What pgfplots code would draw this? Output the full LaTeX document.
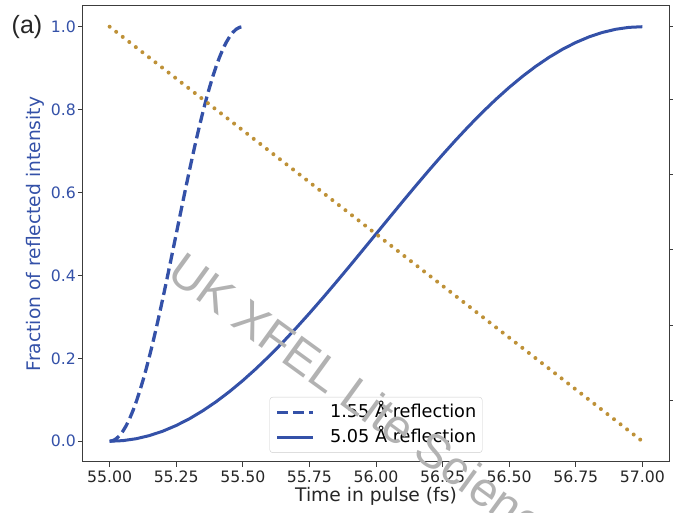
\documentclass[border=0pt]{standalone}
\usepackage{pgfplots}
\pgfplotsset{compat=1.18}
\usepackage{fontspec}
\setmainfont{DejaVu Sans}
\newfontfamily\arialfont{Liberation Sans}
\definecolor{lineblue}{RGB}{52,81,168}
\definecolor{linegold}{RGB}{190,145,55}
\definecolor{spine}{RGB}{60,60,60}
\definecolor{ticktext}{RGB}{38,38,38}
\definecolor{markgray}{RGB}{178,178,178}
\definecolor{legframe}{RGB}{204,204,204}

\begin{document}
\begin{tikzpicture}
\begin{axis}[
    scale only axis,
    width=586pt, height=456pt,
    xmin=54.9, xmax=57.1,
    ymin=-0.05, ymax=1.05,
    xtick={55,55.25,55.5,55.75,56,56.25,56.5,56.75,57},
    ytick={0,0.2,0.4,0.6,0.8,1},
    scaled ticks=false,
    xtick pos=bottom, ytick pos=left,
    tick align=outside,
    major tick length=5pt,
    tick style={spine, line width=1pt},
    axis line style={spine, line width=1pt},
    /pgf/number format/assume math mode=true,
    xticklabel style={font=\fontsize{15.7}{18}\selectfont, text=ticktext, inner sep=0pt, anchor=north, yshift=-3.5pt,
        /pgf/number format/fixed, /pgf/number format/fixed zerofill, /pgf/number format/precision=2},
    yticklabel style={font=\fontsize{15.7}{18}\selectfont, text=lineblue, inner sep=0pt, anchor=east, xshift=-2pt,
        /pgf/number format/fixed, /pgf/number format/fixed zerofill, /pgf/number format/precision=1},
    xlabel={Time in pulse (fs)},
    xlabel style={at={(rel axis cs:0.5,0)}, anchor=base, yshift=-40pt,
        font=\fontsize{18.7}{22}\selectfont, text=ticktext},
    ylabel={Fraction of reflected intensity},
    ylabel style={at={(rel axis cs:0,0.5)}, anchor=center, yshift=48pt,
        font=\fontsize{18.7}{22}\selectfont, text=lineblue},
    legend style={at={(0.5,0.02)}, anchor=south, draw=legframe, rounded corners=3pt,
        fill=white, fill opacity=0.8, text opacity=1,
        font=\fontsize{17.7}{20}\selectfont, inner xsep=6pt, inner ysep=7pt,
        row sep=8.5pt, column sep=15pt,
        nodes={inner sep=0pt, text height=13pt, text depth=3.5pt}},
    legend cell align=left,
    legend image code/.code={\draw[#1] (0pt,0pt) -- (36pt,0pt);},
]
% 1.55 A reflection
\addplot[lineblue, line width=3.3pt, dash pattern=on 11pt off 5pt] coordinates {
    (55.0000,0.000000) (55.0125,0.001541) (55.0250,0.006156) (55.0375,0.013815)
    (55.0500,0.024472) (55.0625,0.038060) (55.0750,0.054497) (55.0875,0.073680)
    (55.1000,0.095492) (55.1125,0.119797) (55.1250,0.146447) (55.1375,0.175276)
    (55.1500,0.206107) (55.1625,0.238751) (55.1750,0.273005) (55.1875,0.308658)
    (55.2000,0.345492) (55.2125,0.383277) (55.2250,0.421783) (55.2375,0.460771)
    (55.2500,0.500000) (55.2625,0.539229) (55.2750,0.578217) (55.2875,0.616723)
    (55.3000,0.654508) (55.3125,0.691342) (55.3250,0.726995) (55.3375,0.761249)
    (55.3500,0.793893) (55.3625,0.824724) (55.3750,0.853553) (55.3875,0.880203)
    (55.4000,0.904508) (55.4125,0.926320) (55.4250,0.945503) (55.4375,0.961940)
    (55.4500,0.975528) (55.4625,0.986185) (55.4750,0.993844) (55.4875,0.998459)
    (55.5000,1.000000)
};
% 5.05 A reflection
\addplot[lineblue, line width=3pt] coordinates {
    (55.00,0.000000) (55.05,0.001541) (55.10,0.006156) (55.15,0.013815)
    (55.20,0.024472) (55.25,0.038060) (55.30,0.054497) (55.35,0.073680)
    (55.40,0.095492) (55.45,0.119797) (55.50,0.146447) (55.55,0.175276)
    (55.60,0.206107) (55.65,0.238751) (55.70,0.273005) (55.75,0.308658)
    (55.80,0.345492) (55.85,0.383277) (55.90,0.421783) (55.95,0.460771)
    (56.00,0.500000) (56.05,0.539229) (56.10,0.578217) (56.15,0.616723)
    (56.20,0.654508) (56.25,0.691342) (56.30,0.726995) (56.35,0.761249)
    (56.40,0.793893) (56.45,0.824724) (56.50,0.853553) (56.55,0.880203)
    (56.60,0.904508) (56.65,0.926320) (56.70,0.945503) (56.75,0.961940)
    (56.80,0.975528) (56.85,0.986185) (56.90,0.993844) (56.95,0.998459)
    (57.00,1.000000)
};
% dotted line
\addplot[linegold, line width=4pt, line cap=round, dash pattern=on 0pt off 8.3pt, forget plot]
    coordinates {(55,1) (57,0)};
\legend{1.55 Å reflection, 5.05 Å reflection}
\coordinate (bl) at (rel axis cs:0,0);
\coordinate (tr) at (rel axis cs:1,1);
\coordinate (lab) at (axis cs:54.9,1.0);
\coordinate (wm) at (axis cs:55.208,0.396);
\end{axis}
\begin{axis}[
    scale only axis,
    width=586pt, height=456pt,
    xmin=54.9, xmax=57.1,
    ymin=-0.05, ymax=1.05,
    axis x line=none,
    axis y line*=right,
    ytick={0.0988,0.2795,0.463,0.643,0.824,1.0},
    yticklabels={},
    tick align=outside,
    major tick length=5pt,
    tick style={spine, line width=1pt},
    axis line style={spine, line width=1pt},
]
\addplot[draw=none] coordinates {(55,0)};
\end{axis}
\node[font=\arialfont\fontsize{25}{30}\selectfont, text=black!85, anchor=center]
    at ([xshift=-56pt]lab) {(a)};
\node[font=\arialfont\fontsize{48}{56}\selectfont, text=markgray, rotate=-36,
    anchor=base west, inner sep=0pt] at (wm) {UK XFEL Lite Science};
\pgfresetboundingbox
\path[use as bounding box] ([xshift=-83pt,yshift=-51pt]bl) rectangle ([xshift=4pt,yshift=6pt]tr);
\end{tikzpicture}
\end{document}
